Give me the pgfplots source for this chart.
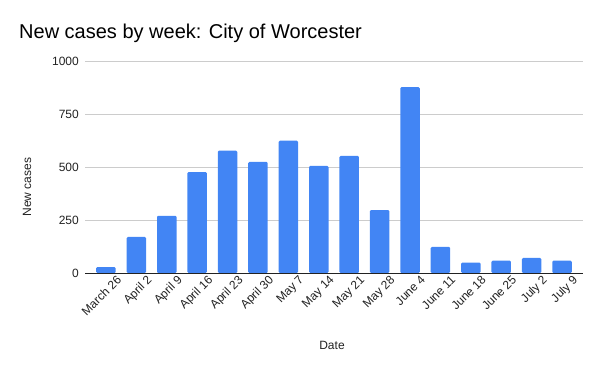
\documentclass[border=0pt]{standalone}
\usepackage{fontspec}
\setmainfont{Liberation Sans}
\usepackage{pgfplots}
\pgfplotsset{compat=1.18}
\definecolor{barblue}{HTML}{4285F4}
\definecolor{gridgray}{HTML}{CCCCCC}
\definecolor{txt}{HTML}{222222}
\begin{document}
\begin{tikzpicture}
\useasboundingbox (0,0) rectangle (600bp,371bp);
\begin{axis}[
    at={(85bp,98bp)}, anchor=south west,
    scale only axis,
    width=498bp, height=212bp,
    ybar, bar width=19.5bp,
    xmin=-0.69, xmax=15.69,
    ymin=0, ymax=1000,
    ytick={0,250,500,750,1000},
    xtick=data,
    xticklabels={March 26,April 2,April 9,April 16,April 23,April 30,May 7,May 14,May 21,May 28,June 4,June 11,June 18,June 25,July 2,July 9},
    major tick length=0pt,
    ymajorgrids, grid style={gridgray, line width=0.8bp},
    axis lines*=left,
    y axis line style={draw=none},
    x axis line style={draw=txt, line width=0.9bp, -},
    /pgf/number format/assume math mode=true,
    /pgf/number format/1000 sep={},
    yticklabel style={font=\fontsize{12bp}{14bp}\selectfont, text=txt, anchor=east, inner sep=0pt, xshift=-6bp},
    xticklabel style={font=\fontsize{12bp}{14bp}\selectfont, text=txt, rotate=45, anchor=north east, inner sep=0pt, xshift=6bp, yshift=-8bp},
    clip=false,
]
\addplot[fill=barblue, draw=none, rounded corners=1.2bp] coordinates {
    (0,28) (1,170) (2,270) (3,476) (4,577) (5,524) (6,624) (7,505)
    (8,552) (9,297) (10,877) (11,123) (12,49) (13,58) (14,71) (15,58)
};
\end{axis}
\node[anchor=west, text=black, font=\fontsize{20bp}{23bp}\selectfont, inner sep=0pt] at (19bp,338bp) {New cases by week: City of Worcester};
\node[rotate=90, text=txt, font=\fontsize{12bp}{14bp}\selectfont, inner sep=0pt] at (27bp,184bp) {New cases};
\node[text=txt, font=\fontsize{12bp}{14bp}\selectfont, inner sep=0pt] at (332bp,26bp) {Date};
\end{tikzpicture}
\end{document}
